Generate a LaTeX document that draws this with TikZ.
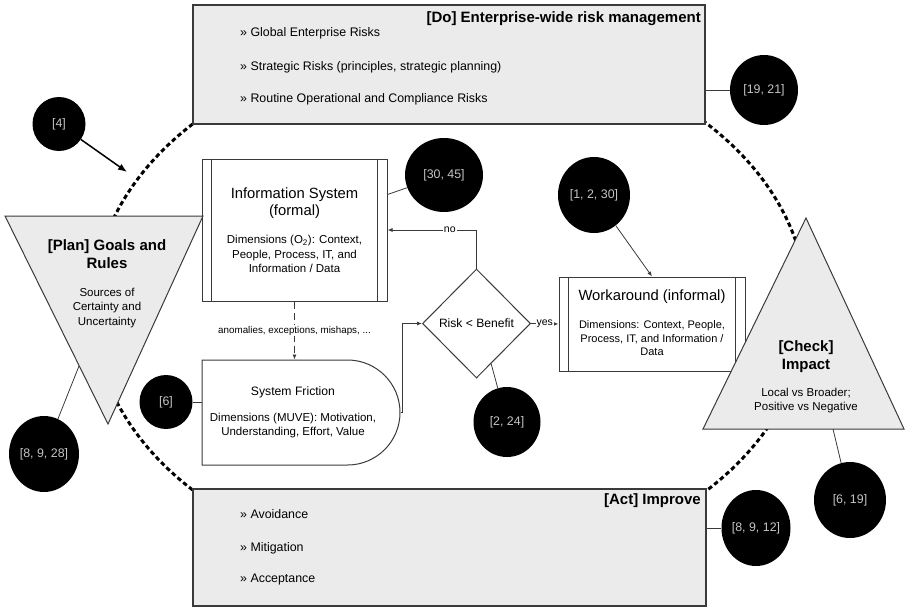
\documentclass[tikz,border=0pt]{standalone}
\usepackage{fontspec}
\setmainfont{Liberation Sans}
\usepackage{tikz}
\usetikzlibrary{shapes.geometric,shapes.misc,arrows.meta}

\definecolor{panelfill}{HTML}{EBEBEB}
\definecolor{edgegray}{HTML}{3A3A3A}
\definecolor{refgray}{HTML}{C4C4C4}

\newcommand{\hdfont}{\fontsize{15}{18}\selectfont\bfseries}
\newcommand{\lsfont}{\fontsize{12.4}{14}\selectfont}
\newcommand{\bxfont}{\fontsize{14.8}{17}\selectfont}
\newcommand{\frfont}{\fontsize{12.2}{14}\selectfont}
\newcommand{\dmfont}{\fontsize{11.5}{14.5}\selectfont}
\newcommand{\wkfont}{\fontsize{11}{13.5}\selectfont}
\newcommand{\dsfont}{\fontsize{12.1}{14}\selectfont}
\newcommand{\smfont}{\fontsize{9.8}{12}\selectfont}
\newcommand{\lbfont}{\fontsize{10.5}{12}\selectfont}
\newcommand{\rffont}{\fontsize{12.4}{14}\selectfont}

\begin{document}
\begin{tikzpicture}[x=1pt,y=-1pt,
  panel/.style={draw=edgegray,line width=1.1pt,fill=panelfill,inner sep=0pt},
  tri/.style={draw=edgegray,line width=1pt,fill=panelfill},
  procbox/.style={draw=edgegray,line width=1pt,fill=white,inner sep=0pt},
  txt/.style={inner sep=0pt},
  citeball/.style={ellipse,fill=black,text=refgray,inner sep=0pt,font=\rffont},
  link/.style={draw=edgegray,line width=0.8pt},
  flow/.style={link,-{Latex[length=5pt,width=4pt]}},
  loopline/.style={line width=3pt,dash pattern=on 4.5pt off 3pt},
  tag/.style={fill=white,inner sep=1pt,font=\lbfont}]
  \useasboundingbox (0,0) rectangle (905,608);

  % PDCA loop
  \draw[loopline] (450,307) ellipse [x radius=357pt, y radius=264pt];

  % [Do]
  \node[panel,minimum width=512pt,minimum height=119pt] (doBox) at (449,64.5) {};
  \node[txt,anchor=east,font=\hdfont] (doTitle) at (701,19) {[Do] Enterprise-wide risk management};
  \node[txt,anchor=west,font=\lsfont] (doA) at (240,33) {» Global Enterprise Risks};
  \node[txt,anchor=west,font=\lsfont] (doB) at (240,67) {» Strategic Risks (principles, strategic planning)};
  \node[txt,anchor=west,font=\lsfont] (doC) at (240,99) {» Routine Operational and Compliance Risks};

  % [Act]
  \node[panel,minimum width=513pt,minimum height=117pt] (actBox) at (449.5,547.5) {};
  \node[txt,anchor=east,font=\hdfont] (actTitle) at (701,501) {[Act] Improve};
  \node[txt,anchor=west,font=\lsfont] (actA) at (240,514) {» Avoidance};
  \node[txt,anchor=west,font=\lsfont] (actB) at (240,548) {» Mitigation};
  \node[txt,anchor=west,font=\lsfont] (actC) at (240,580) {» Acceptance};

  % information system
  \node[procbox,minimum width=185pt,minimum height=142pt] (isys) at (294.5,230) {};
  \draw[link] ([xshift=10pt]isys.north west) -- ([xshift=10pt]isys.south west);
  \draw[link] ([xshift=-10pt]isys.north east) -- ([xshift=-10pt]isys.south east);
  \node[txt,font=\bxfont,align=center] (isysTitle) at (294.5,203.5) {Information System\\(formal)};
  \node[txt,font=\dmfont,align=center] (isysDims) at (294.5,254) {Dimensions (O\textsubscript{2}): Context,\\People, Process, IT, and\\Information / Data};

  % friction
  \node[procbox,rounded rectangle,rounded rectangle west arc=none,minimum width=198pt,minimum height=105pt] (fric) at (301,412.5) {};
  \node[txt,font=\frfont] (fricTitle) at (293,392) {System Friction};
  \node[txt,font=\dmfont,align=center] (fricDims) at (293,425.5) {Dimensions (MUVE): Motivation,\\Understanding, Effort, Value};

  % decision
  \node[procbox,diamond,minimum width=108pt,minimum height=109pt,font=\dsfont] (risk) at (476.5,323.5) {Risk < Benefit};

  % workaround
  \node[procbox,minimum width=186pt,minimum height=94pt] (work) at (652,324) {};
  \draw[link] ([xshift=10pt]work.north west) -- ([xshift=10pt]work.south west);
  \draw[link] ([xshift=-10pt]work.north east) -- ([xshift=-10pt]work.south east);
  \node[txt,font=\bxfont] (workTitle) at (652,297) {Workaround (informal)};
  \node[txt,font=\wkfont,align=center] (workDims) at (652,338.5) {Dimensions: Context, People,\\Process, IT, and Information /\\Data};

  % [Plan]
  \draw[tri] (5,216) -- (203,216) -- (108,424) -- cycle;
  \node[txt,font=\hdfont,align=center] (planTitle) at (107,254) {[Plan] Goals and\\Rules};
  \node[txt,font=\dmfont,align=center] (planSub) at (107,308) {Sources of\\Certainty and\\Uncertainty};
  \coordinate (planHit) at (127,172);
  \coordinate (planEdge) at (79,366);

  % [Check]
  \draw[tri] (806,218) -- (904,429) -- (703,429) -- cycle;
  \node[txt,font=\hdfont,align=center] (chkTitle) at (806,357) {[Check]\\Impact};
  \node[txt,font=\dmfont,align=center] (chkSub) at (806,400.5) {Local vs Broader;\\Positive vs Negative};
  \coordinate (chkBase) at (833,429);

  % flow
  \draw[flow,dash pattern=on 7pt off 4pt] (isys.south) -- (isys.south |- fric.north)
    node[midway,fill=white,inner sep=1pt,font=\smfont] (anomTag) {anomalies, exceptions, mishaps, ...};
  \draw[flow] (fric.east) -- ++(2,0) |- (risk.west);
  \draw[flow] (risk.north) |- (isys.east) node[tag,pos=0.65] (noTag) {no};
  \draw[flow] (risk.east) -- (work.west) node[tag,midway] (yesTag) {yes};

  % references
  \node[citeball,minimum width=53pt,minimum height=54pt] (c4) at (59,124) {[4]};
  \node[citeball,minimum width=70pt,minimum height=76pt] (c8928) at (44,454) {[8, 9, 28]};
  \node[citeball,minimum width=53pt,minimum height=54pt] (c6) at (166,402) {[6]};
  \node[citeball,minimum width=78pt,minimum height=74pt] (c3045) at (444,175) {[30, 45]};
  \node[citeball,minimum width=72pt,minimum height=76pt] (c1230) at (594,195) {[1, 2, 30]};
  \node[citeball,minimum width=67pt,minimum height=70pt] (c224) at (507,422) {[2, 24]};
  \node[citeball,minimum width=68pt,minimum height=70pt] (c1921) at (764,90) {[19, 21]};
  \node[citeball,minimum width=69pt,minimum height=76pt] (c8912) at (756,528) {[8, 9, 12]};
  \node[citeball,minimum width=72pt,minimum height=76pt] (c619) at (850,500) {[6, 19]};

  \draw[line width=1.5pt,-{Latex[length=9pt,width=7pt]}] (c4) -- (planHit);
  \draw[link] (c8928) -- (planEdge);
  \draw[link] (c6.east) -- (c6.east -| fric.west);
  \draw[link] (c3045) -- ([yshift=-36pt]isys.north east);
  \draw[flow] (c1230) -- (work.north);
  \draw[link] (c224) -- (risk.-70);
  \draw[link] (c1921.west) -- (c1921.west -| doBox.east);
  \draw[link] (c8912.west) -- (c8912.west -| actBox.east);
  \draw[link] (c619) -- (chkBase);
\end{tikzpicture}
\end{document}
